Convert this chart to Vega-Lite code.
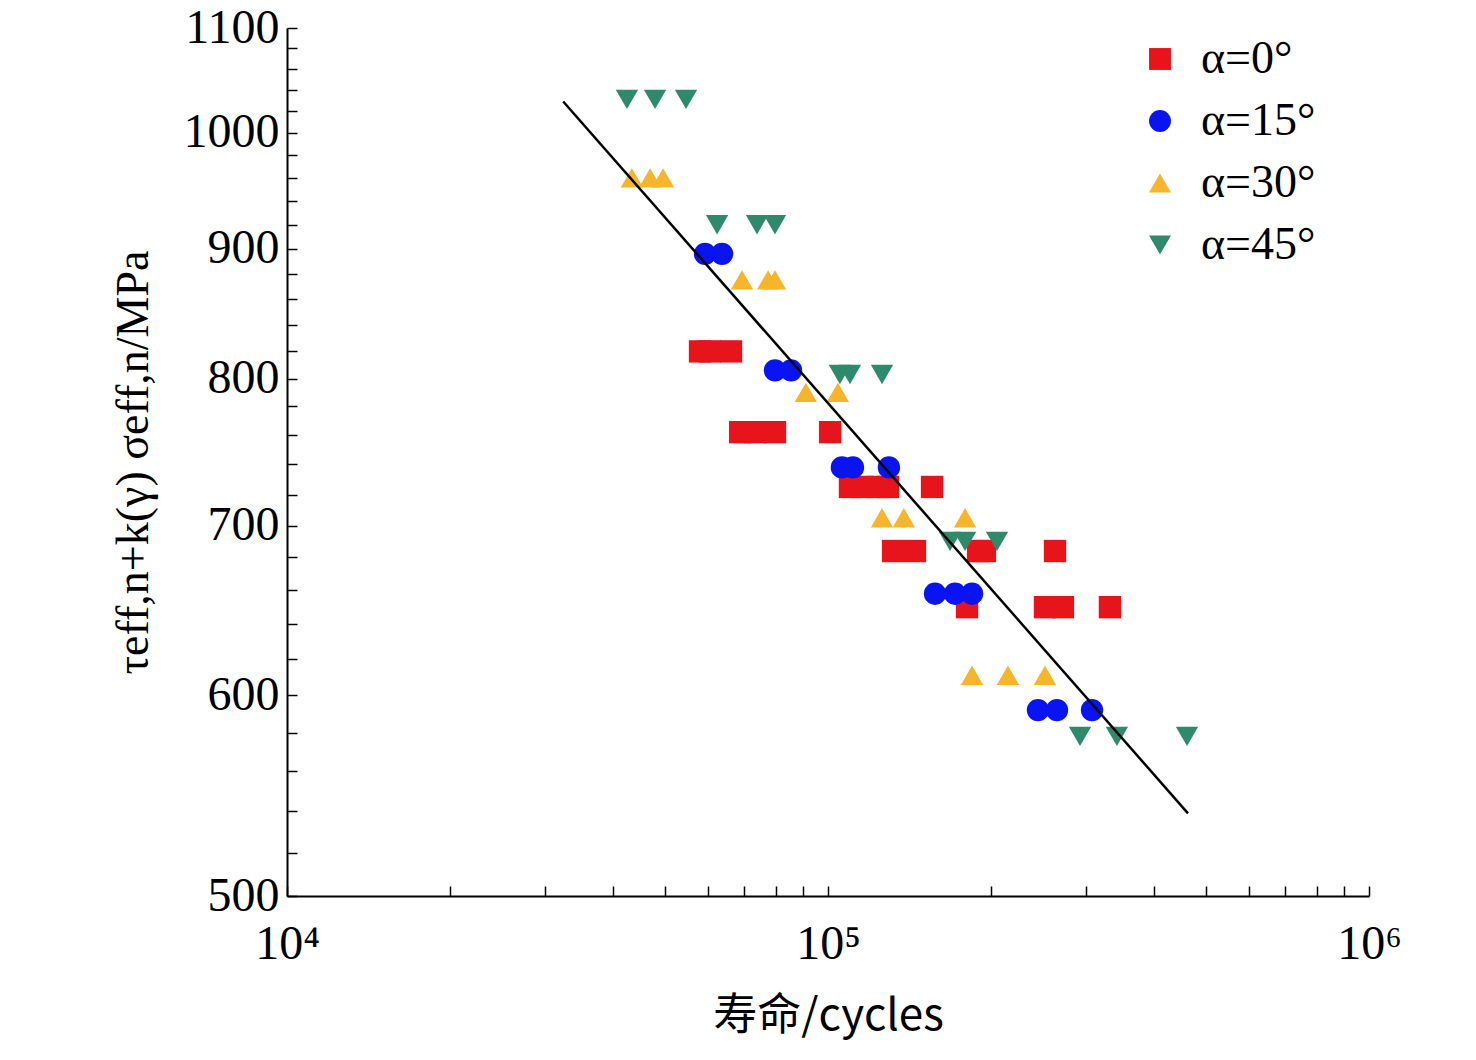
{
  "$schema": "https://vega.github.io/schema/vega-lite/v6.json",
  "width": 1082,
  "height": 868,
  "autosize": "none",
  "padding": {"left": 287, "top": 28, "right": 107, "bottom": 164},
  "background": "white",
  "config": {
    "view": {"stroke": null},
    "font": "Liberation Serif",
    "axis": {"labelFont": "Liberation Serif", "titleFont": "Liberation Serif", "labelFontSize": 48, "titleFontSize": 44, "domainColor": "black", "domainWidth": 2, "tickColor": "black", "tickWidth": 1.5, "labelColor": "black", "titleColor": "black", "grid": false, "titleFontWeight": "normal"}
  },
  "layer": [
    {
      "data": {"values": [
        {"a": "α=0°", "x": 58000, "y": 820}, {"a": "α=0°", "x": 60500, "y": 820}, {"a": "α=0°", "x": 66180, "y": 820},
        {"a": "α=0°", "x": 68800, "y": 762}, {"a": "α=0°", "x": 73300, "y": 762}, {"a": "α=0°", "x": 79800, "y": 762}, {"a": "α=0°", "x": 100900, "y": 762},
        {"a": "α=0°", "x": 109800, "y": 725}, {"a": "α=0°", "x": 115600, "y": 725}, {"a": "α=0°", "x": 123700, "y": 725}, {"a": "α=0°", "x": 129100, "y": 725}, {"a": "α=0°", "x": 155700, "y": 725},
        {"a": "α=0°", "x": 131900, "y": 684}, {"a": "α=0°", "x": 144800, "y": 684}, {"a": "α=0°", "x": 189400, "y": 684}, {"a": "α=0°", "x": 195000, "y": 684}, {"a": "α=0°", "x": 262800, "y": 684},
        {"a": "α=0°", "x": 180700, "y": 650}, {"a": "α=0°", "x": 251800, "y": 650}, {"a": "α=0°", "x": 271800, "y": 650}, {"a": "α=0°", "x": 332000, "y": 650},
        {"a": "α=15°", "x": 59250, "y": 896}, {"a": "α=15°", "x": 63700, "y": 896},
        {"a": "α=15°", "x": 79800, "y": 806}, {"a": "α=15°", "x": 85450, "y": 806},
        {"a": "α=15°", "x": 106100, "y": 738}, {"a": "α=15°", "x": 111200, "y": 738}, {"a": "α=15°", "x": 129600, "y": 738},
        {"a": "α=15°", "x": 157700, "y": 658}, {"a": "α=15°", "x": 171700, "y": 658}, {"a": "α=15°", "x": 184600, "y": 658},
        {"a": "α=15°", "x": 244400, "y": 592}, {"a": "α=15°", "x": 265000, "y": 592}, {"a": "α=15°", "x": 307600, "y": 592},
        {"a": "α=30°", "x": 43400, "y": 960}, {"a": "α=30°", "x": 46900, "y": 960}, {"a": "α=30°", "x": 49550, "y": 960},
        {"a": "α=30°", "x": 69350, "y": 875}, {"a": "α=30°", "x": 77500, "y": 875}, {"a": "α=30°", "x": 79800, "y": 875},
        {"a": "α=30°", "x": 91000, "y": 790}, {"a": "α=30°", "x": 104300, "y": 790},
        {"a": "α=30°", "x": 125840, "y": 705}, {"a": "α=30°", "x": 138100, "y": 705}, {"a": "α=30°", "x": 179200, "y": 705},
        {"a": "α=30°", "x": 184600, "y": 611}, {"a": "α=30°", "x": 215100, "y": 611}, {"a": "α=30°", "x": 251800, "y": 611},
        {"a": "α=45°", "x": 42500, "y": 1031}, {"a": "α=45°", "x": 47900, "y": 1031}, {"a": "α=45°", "x": 54650, "y": 1031},
        {"a": "α=45°", "x": 62370, "y": 920}, {"a": "α=45°", "x": 73930, "y": 920}, {"a": "α=45°", "x": 79800, "y": 920},
        {"a": "α=45°", "x": 105200, "y": 803}, {"a": "α=45°", "x": 109800, "y": 803}, {"a": "α=45°", "x": 125840, "y": 803},
        {"a": "α=45°", "x": 168100, "y": 690}, {"a": "α=45°", "x": 179200, "y": 690}, {"a": "α=45°", "x": 205300, "y": 690},
        {"a": "α=45°", "x": 292300, "y": 578}, {"a": "α=45°", "x": 342000, "y": 578}, {"a": "α=45°", "x": 460900, "y": 578}
      ]},
      "mark": {"type": "point", "filled": true, "opacity": 1, "size": 500},
      "encoding": {
        "x": {"field": "x", "type": "quantitative",
          "scale": {"type": "log", "domain": [10000, 1000000], "nice": false},
          "title": "寿命/cycles",
          "axis": {"values": [10000, 20000, 30000, 40000, 50000, 60000, 70000, 80000, 90000, 100000, 200000, 300000, 400000, 500000, 600000, 700000, 800000, 900000, 1000000],
            "labelExpr": "datum.value == 10000 ? '10⁴' : datum.value == 100000 ? '10⁵' : datum.value == 1000000 ? '10⁶' : ''",
            "labelAlign": "center", "labelFlush": false,
            "tickSize": -10, "labelPadding": 34, "titleFontSize": 44, "titlePadding": 26, "titleFont": "Noto Sans CJK SC"}},
        "y": {"field": "y", "type": "quantitative",
          "scale": {"type": "log", "domain": [500, 1100], "nice": false, "zero": false},
          "title": "τeff,n+k(γ) σeff,n/MPa",
          "axis": {"values": [500, 520, 540, 560, 580, 600, 620, 640, 660, 680, 700, 720, 740, 760, 780, 800, 820, 840, 860, 880, 900, 920, 940, 960, 980, 1000, 1020, 1040, 1060, 1080, 1100],
            "labelExpr": "datum.value % 100 == 0 ? datum.value : ''",
            "labelFlush": false,
            "tickSize": -10, "labelPadding": 18, "titlePadding": 26, "titleFontSize": 46}},
        "color": {"field": "a", "type": "nominal",
          "scale": {"domain": ["α=0°", "α=15°", "α=30°", "α=45°"], "range": ["#e8141c", "#0a14f0", "#f7b52c", "#2e8a6a"]},
          "legend": {"orient": "none", "legendX": 850, "legendY": 8, "title": null, "labelFontSize": 46, "labelFont": "Liberation Serif", "symbolSize": 480, "rowPadding": 16, "labelOffset": 18, "labelColor": "black"}},
        "shape": {"field": "a", "type": "nominal",
          "scale": {"domain": ["α=0°", "α=15°", "α=30°", "α=45°"], "range": ["square", "circle", "triangle-up", "triangle-down"]},
          "legend": null}
      }
    },
    {
      "data": {"values": [{"x": 32400, "y": 1029}, {"x": 462800, "y": 539}]},
      "mark": {"type": "line", "color": "black", "strokeWidth": 2.5},
      "encoding": {
        "x": {"field": "x", "type": "quantitative"},
        "y": {"field": "y", "type": "quantitative"}
      }
    }
  ]
}
